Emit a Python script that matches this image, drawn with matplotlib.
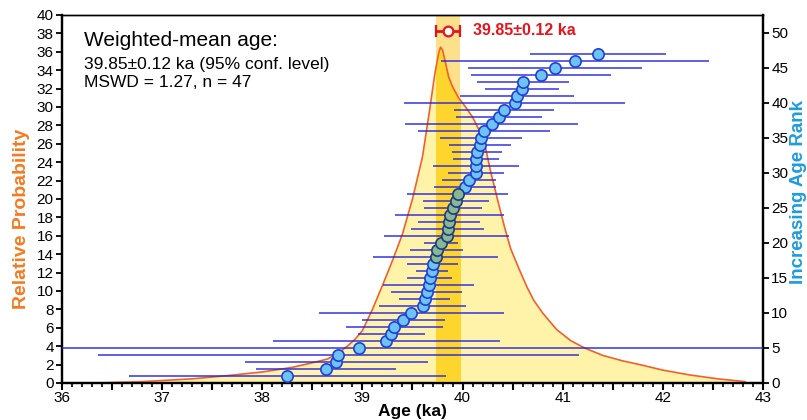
import numpy as np
import matplotlib
matplotlib.use("Agg")
import matplotlib.pyplot as plt
from matplotlib.patches import Rectangle
from matplotlib.ticker import MultipleLocator, FuncFormatter

plt.rcParams['font.family'] = ['Liberation Sans', 'DejaVu Sans']

# ages (ka) sorted by rank, with error half-widths
ages = [38.25, 38.64, 38.74, 38.76, 38.97, 39.24, 39.29, 39.32, 39.41, 39.49,
        39.60, 39.62, 39.64, 39.66, 39.67, 39.69, 39.70, 39.73, 39.74, 39.78,
        39.84, 39.85, 39.86, 39.87, 39.90, 39.93, 39.95, 40.02, 40.06, 40.13,
        40.13, 40.13, 40.14, 40.17, 40.18, 40.21, 40.29, 40.36, 40.41, 40.52,
        40.54, 40.59, 40.60, 40.78, 40.92, 41.12, 41.35]
errors = [1.58, 0.70, 0.91, 2.40, 4.50, 1.13, 0.33, 0.48, 0.41, 0.92,
          0.43, 0.25, 0.35, 0.45, 0.22, 0.16, 0.25, 0.62, 0.26, 0.17,
          0.62, 0.36, 0.31, 0.54, 0.29, 0.33, 0.50, 0.31, 0.27, 0.28,
          0.43, 0.23, 0.25, 0.31, 0.41, 0.66, 0.86, 0.43, 0.50, 1.10,
          0.57, 0.37, 0.46, 0.70, 0.87, 1.34, 0.68]

# relative probability curve
curve_age = [36.35, 36.8, 37.3, 37.65, 38.0, 38.3, 38.5, 38.65, 38.75, 38.85,
             38.93, 39.0, 39.1, 39.2, 39.3, 39.4, 39.5, 39.6, 39.67, 39.72,
             39.76, 39.78, 39.8, 39.83, 39.86, 39.9, 39.96, 40.03, 40.1, 40.16,
             40.2, 40.23, 40.28, 40.35, 40.42, 40.48, 40.56, 40.64, 40.71, 40.8,
             40.94, 41.08, 41.22, 41.4, 41.6, 41.77, 42.0, 42.27, 42.55, 42.82]
curve_prob = [0.0, 0.15, 0.45, 0.8, 1.2, 1.7, 2.2, 2.6, 3.2, 4.0,
              4.8, 5.7, 8.0, 10.6, 13.3, 16.2, 20.0, 24.6, 29.6, 33.4,
              35.8, 36.5, 36.2, 34.8, 33.3, 32.2, 31.0, 30.0, 28.9, 27.6,
              26.5, 25.5, 23.0, 19.9, 16.9, 14.6, 12.5, 10.5, 9.0, 7.6,
              5.8, 4.6, 3.8, 3.0, 2.4, 2.0, 1.4, 0.87, 0.45, 0.15]

mean_age = 39.85
mean_err = 0.12
mswd = 1.27

ages = np.array(ages)
errors = np.array(errors)
ranks = np.arange(1, len(ages) + 1)
in_mean = np.abs(ages - mean_age) <= mean_err + 1e-6

fig = plt.figure(figsize=(8.07, 4.2), dpi=100)
ax = fig.add_axes([0.0768, 0.0881, 0.8687, 0.8762])
ax2 = ax.twinx()

# probability curve and weighted-mean band
ax.fill_between(curve_age, 0, curve_prob, color='#FFF3AA', lw=0, zorder=1)
ax.axvspan(mean_age - mean_err, mean_age + mean_err, color='#FDE08C', lw=0, zorder=2)
band = Rectangle((mean_age - mean_err, 0), 2 * mean_err, 40, transform=ax.transData)
deep = ax.fill_between(curve_age, 0, curve_prob, color='#FDD52C', lw=0, zorder=3)
deep.set_clip_path(band)
ax.plot(curve_age, curve_prob, color='#F2602A', lw=1.2, zorder=4)

# weighted mean marker
ax.errorbar([mean_age], [38.3], xerr=[mean_err], fmt='o', color='#E8141C',
            mfc='white', mec='#E8141C', ms=7, mew=1.6, capsize=4.5, elinewidth=2,
            capthick=2, zorder=6)
ax.text(40.1, 38.3, f'{mean_age:.2f}±{mean_err:.2f} ka', color='#E8141C',
        fontsize=11.5, fontweight='bold', va='center', ha='left')

ax.text(0.031, 0.957, 'Weighted-mean age:', transform=ax.transAxes, fontsize=15,
        va='top', ha='left')
ax.text(0.031, 0.885, f'{mean_age:.2f}±{mean_err:.2f} ka (95% conf. level)\n'
        f'MSWD = {mswd:.2f}, n = {len(ages)}', transform=ax.transAxes,
        fontsize=12.5, va='top', ha='left', linespacing=1.22)

# ranked ages with error bars
ax2.hlines(ranks, ages - errors, ages + errors, color='#2323E0', lw=1.2,
           alpha=0.85, zorder=3)
ax2.scatter(ages[~in_mean], ranks[~in_mean], s=66, c='#6EC3F5',
            edgecolors='#1F3FD6', linewidths=1.2, zorder=5)
ax2.scatter(ages[in_mean], ranks[in_mean], s=66, c='#88B893',
            edgecolors='#1E3A80', linewidths=1.2, zorder=5)

ax.set_xlim(36, 43)
ax.set_ylim(0, 40)
ax2.set_ylim(0, 52.57)

ax.xaxis.set_major_locator(MultipleLocator(0.5))
ax.xaxis.set_minor_locator(MultipleLocator(0.1))
ax.xaxis.set_major_formatter(FuncFormatter(lambda v, p: f'{v:.0f}' if abs(v - round(v)) < 1e-6 else ''))
ax.yaxis.set_major_locator(MultipleLocator(2))
ax2.yaxis.set_major_locator(MultipleLocator(5))

ax.tick_params(axis='x', which='major', direction='out', length=5, width=1.5,
               labelsize=11, pad=1)
ax.tick_params(axis='x', which='minor', direction='out', length=3, width=1.2)
ax.tick_params(axis='y', direction='out', length=4, width=1.3, labelsize=11, pad=2)
ax2.tick_params(axis='y', direction='out', length=4, width=1.3, labelsize=11, pad=2)

for a in (ax, ax2):
    for side in ('left', 'right', 'bottom'):
        a.spines[side].set_linewidth(1.6)
    a.spines['top'].set_linewidth(1.0)

ax.set_xlabel('Age (ka)', fontsize=12.5, fontweight='bold', labelpad=-1)
ax.set_ylabel('Relative Probability', fontsize=14, fontweight='bold',
              color='#F47A20')
ax.yaxis.set_label_coords(-0.046, 0.445)
ax2.set_ylabel('Increasing Age Rank', fontsize=13.5, fontweight='bold',
               color='#1E9BE0', rotation=90)
ax2.yaxis.set_label_coords(1.038, 0.52)

fig.savefig('out.png', dpi=100)
